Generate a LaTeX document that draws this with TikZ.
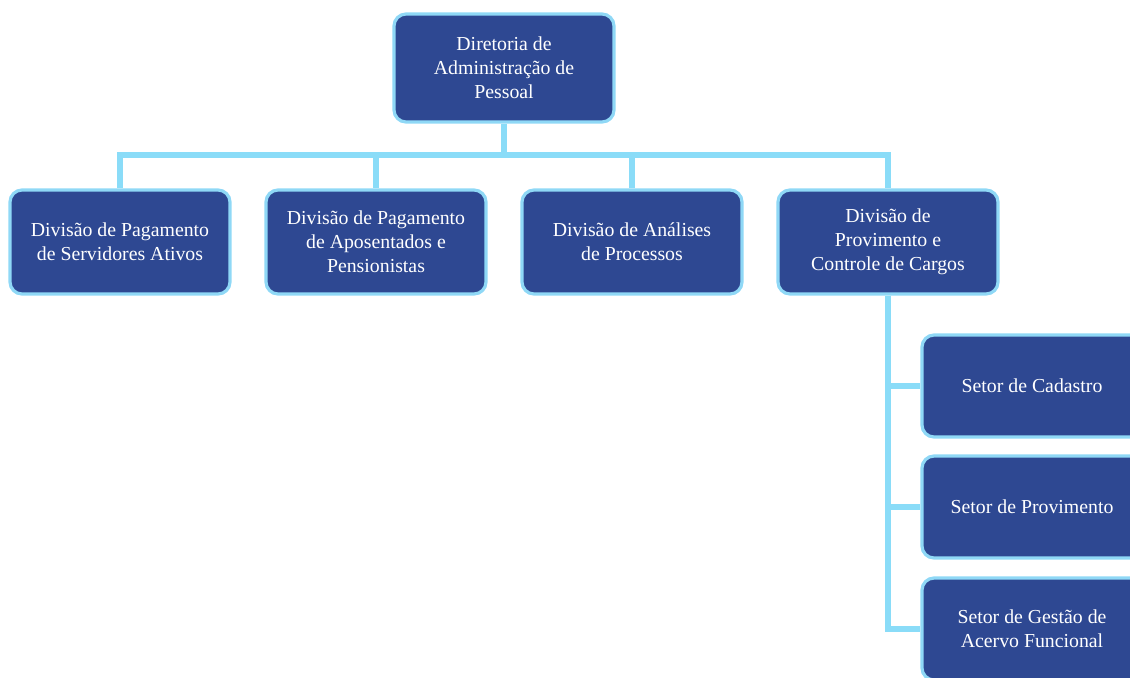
\documentclass[tikz,border=0pt]{standalone}
\usepackage{fontspec}
\setmainfont{Liberation Serif}
\usepackage{tikz}
\usetikzlibrary{positioning, backgrounds}
\definecolor{boxblue}{HTML}{2E4892}
\definecolor{edgeblue}{HTML}{8FD8F6}
\definecolor{linkblue}{HTML}{8ADCF8}
\tikzstyle{block} = [rectangle, draw=edgeblue, line width=1.6pt, fill=boxblue,
                 rounded corners=6pt, text=white, align=center,
                 minimum width=110pt, minimum height=52pt,
                 font=\fontsize{9.9}{12}\selectfont]
\tikzstyle{branch} = [draw=linkblue, line width=2.6pt]
\tikzset{
	sector/.style={block, minimum width=110pt, minimum height=51pt},
}

\begin{document}
\begin{tikzpicture}[x=0.5pt, y=-0.5pt]

\useasboundingbox (0,0) rectangle (1130,677);
\clip (0,0) rectangle (1130,677);

\coordinate (bus) at (504,155);

\node [block, minimum height=54pt] at (504,68) (dap) {Diretoria de\\Administração de\\Pessoal};

\node [block] at (120,242) (dpa) {Divisão de Pagamento\\de Servidores Ativos};
\node [block] at (376,242) (dpap) {Divisão de Pagamento\\de Aposentados e\\Pensionistas};
\node [block] at (632,242) (dan) {Divisão de Análises\\de Processos};
\node [block] at (888,242) (dpc) {Divisão de\\Provimento e\\Controle de Cargos};

\node [sector] at (1032,386) (scad) {Setor de Cadastro};
\node [sector] at (1032,507) (sprov) {Setor de Provimento};
\node [sector] at (1032,629) (sgest) {Setor de Gestão de\\Acervo Funcional};

\begin{scope}[on background layer]
\path [branch] (dap.south) -- (bus);
\path [branch] (bus) -| (dpa.north);
\path [branch] (bus) -| (dpap.north);
\path [branch] (bus) -| (dan.north);
\path [branch] (bus) -| (dpc.north);
%setores
\path [branch] (dpc.south) |- (scad.west);
\path [branch] (dpc.south) |- (sprov.west);
\path [branch] (dpc.south) |- (sgest.west);
\end{scope}

\end{tikzpicture}
\end{document}
